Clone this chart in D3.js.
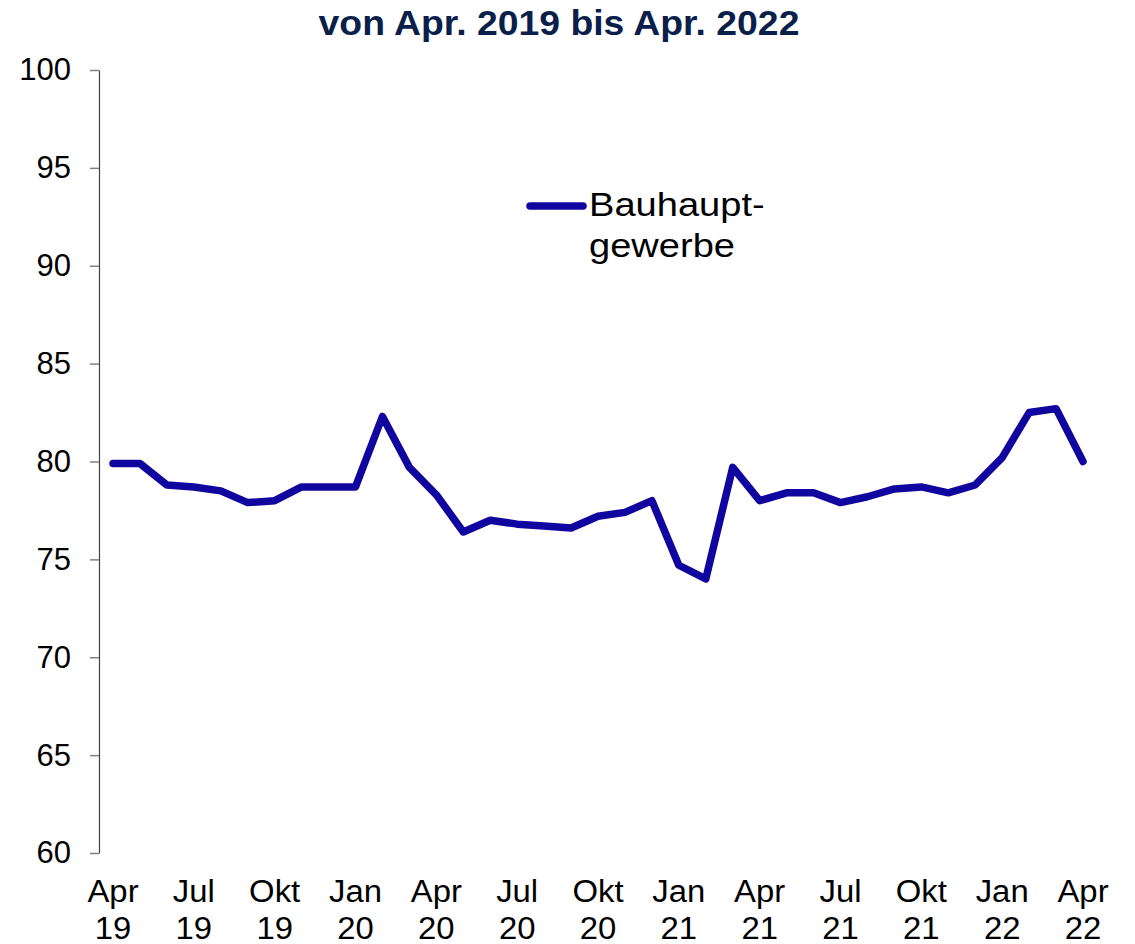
<!DOCTYPE html>
<html>
  <head>
    <meta charset="utf-8">
    <title>Bauhauptgewerbe</title>
    <script src="https://d3js.org/d3.v7.min.js"></script>
    <style>
      body { margin: 0; background: #fff; }
      svg { display: block; font-family: "Liberation Sans", Arial, sans-serif; }
    </style>
  </head>
  <body>
    <div id="chart"></div>
    <script>
      // monthly values, Apr 2019 .. Apr 2022
      var months = ["Apr 19","Mai 19","Jun 19","Jul 19","Aug 19","Sep 19","Okt 19","Nov 19","Dez 19",
                    "Jan 20","Feb 20","Mär 20","Apr 20","Mai 20","Jun 20","Jul 20","Aug 20","Sep 20",
                    "Okt 20","Nov 20","Dez 20","Jan 21","Feb 21","Mär 21","Apr 21","Mai 21","Jun 21",
                    "Jul 21","Aug 21","Sep 21","Okt 21","Nov 21","Dez 21","Jan 22","Feb 22","Mär 22","Apr 22"];
      var values = [79.9, 79.9, 78.8, 78.7, 78.5, 77.9, 78.0, 78.7, 78.7,
                    78.7, 82.3, 79.7, 78.3, 76.4, 77.0, 76.8, 76.7, 76.6,
                    77.2, 77.4, 78.0, 74.7, 74.0, 79.7, 78.0, 78.4, 78.4,
                    77.9, 78.2, 78.6, 78.7, 78.4, 78.8, 80.2, 82.5, 82.7, 80.0];
      var tickLabels = [["Apr","19"],["Jul","19"],["Okt","19"],["Jan","20"],["Apr","20"],["Jul","20"],
                        ["Okt","20"],["Jan","21"],["Apr","21"],["Jul","21"],["Okt","21"],["Jan","22"],["Apr","22"]];
      var yTicks = [60, 65, 70, 75, 80, 85, 90, 95, 100];
      var seriesName = ["Bauhaupt-", "gewerbe"];
      var title = "von Apr. 2019 bis Apr. 2022";

      var width = 1135, height = 944;
      var lineColor = "#10069F";

      var svg = d3.select("#chart").append("svg")
        .attr("width", width)
        .attr("height", height);

      var x = d3.scaleLinear()
        .domain([0, months.length - 1])
        .range([113, 1083]);
      var y = d3.scaleLinear()
        .domain([60, 100])
        .range([853, 70]);

      // title (source text is slightly wide, hence the x stretch)
      svg.append("g")
        .attr("transform", "translate(559,35) scale(1.067,1)")
        .append("text")
          .attr("text-anchor", "middle")
          .style("font-size", "35px")
          .style("font-weight", "bold")
          .style("fill", "#0B1F4B")
          .text(title);

      // y axis
      var yAxis = svg.append("g")
        .attr("transform", "translate(99,0)")
        .call(d3.axisLeft(y)
          .tickValues(yTicks)
          .tickSize(9)
          .tickSizeOuter(0)
          .tickPadding(19));
      yAxis.select(".domain").attr("stroke", "#404040").attr("stroke-width", 1.2);
      yAxis.selectAll(".tick line").attr("stroke", "#808080").attr("stroke-width", 1.5);
      yAxis.selectAll(".tick text")
        .style("font-size", "31px")
        .style("font-family", "'Liberation Sans', Arial, sans-serif")
        .attr("fill", "#000");

      // x labels (every third month)
      var xl = svg.append("g").selectAll("text")
        .data(tickLabels)
        .enter().append("text")
          .attr("text-anchor", "middle")
          .attr("transform", function(d, i) { return "translate(" + x(i * 3) + ",0) scale(1.06,1)"; })
          .style("font-size", "31px")
          .style("fill", "#000");
      xl.append("tspan").attr("x", 0).attr("y", 902).text(function(d) { return d[0]; });
      xl.append("tspan").attr("x", 0).attr("y", 939).text(function(d) { return d[1]; });

      // series line
      var line = d3.line()
        .x(function(d, i) { return x(i); })
        .y(function(d) { return y(d); });
      svg.append("path")
        .datum(values)
        .attr("d", line)
        .attr("fill", "none")
        .attr("stroke", lineColor)
        .attr("stroke-width", 7.5)
        .attr("stroke-linejoin", "round")
        .attr("stroke-linecap", "round");

      // legend
      var legend = svg.append("g");
      legend.append("line")
        .attr("x1", 530).attr("x2", 583)
        .attr("y1", 206).attr("y2", 206)
        .attr("stroke", lineColor)
        .attr("stroke-width", 7.5)
        .attr("stroke-linecap", "round");
      legend.append("g")
        .attr("transform", "translate(589,0) scale(1.12,1)")
        .append("text")
          .style("font-size", "34px")
          .style("fill", "#000")
          .selectAll("tspan")
          .data(seriesName)
          .enter().append("tspan")
            .attr("x", 0)
            .attr("y", function(d, i) { return 216 + i * 41; })
            .text(function(d) { return d; });
    </script>
  </body>
</html>
